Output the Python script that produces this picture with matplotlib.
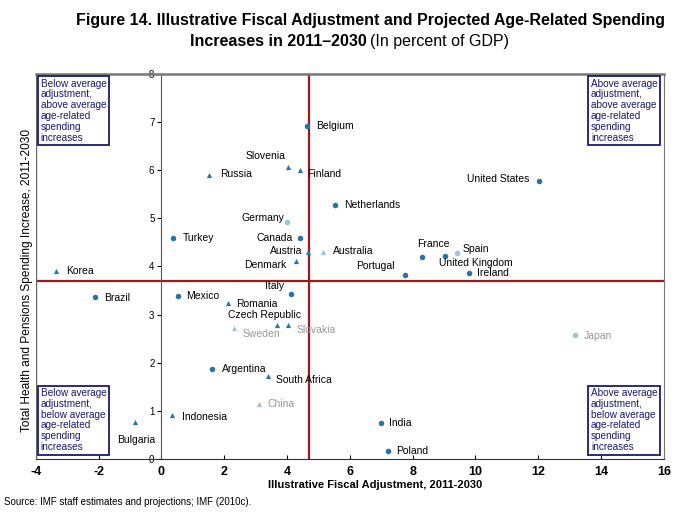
import numpy as np
import matplotlib.pyplot as plt

plt.rcParams['font.family'] = ['Liberation Sans', 'DejaVu Sans']
plt.rcParams['axes.unicode_minus'] = False

# countries: name, fiscal adjustment, spending increase
countries = ["Belgium", "Slovenia", "Finland", "Russia", "United States", "Netherlands",
             "Germany", "Turkey", "Canada", "Austria", "Australia", "France", "Spain",
             "United Kingdom", "Denmark", "Portugal", "Ireland", "Korea", "Brazil", "Mexico",
             "Italy", "Romania", "Czech Republic", "Slovakia", "Sweden", "Japan", "Argentina",
             "South Africa", "China", "Indonesia", "Bulgaria", "India", "Poland"]
adjustment = [4.63, 4.03, 4.41, 1.51, 12.02, 5.52,
              3.99, 0.36, 4.41, 4.66, 5.14, 8.29, 9.41,
              9.03, 4.28, 7.75, 9.79, -3.36, -2.12, 0.52,
              4.12, 2.11, 3.68, 4.03, 2.31, 13.17, 1.61,
              3.39, 3.10, 0.33, -0.85, 6.99, 7.21]
spending = [6.92, 6.07, 6.01, 5.90, 5.78, 5.28,
            4.93, 4.59, 4.59, 4.30, 4.30, 4.20, 4.28,
            4.22, 4.12, 3.83, 3.87, 3.91, 3.37, 3.39,
            3.43, 3.24, 2.79, 2.79, 2.72, 2.58, 1.87,
            1.73, 1.14, 0.91, 0.77, 0.75, 0.17]
# marker kind: 'o' circle, '^' triangle
kinds = ['o', '^', '^', '^', 'o', 'o',
         'o', 'o', 'o', '^', '^', 'o', 'o',
         'o', '^', 'o', 'o', '^', 'o', 'o',
         'o', '^', '^', '^', '^', 'o', 'o',
         '^', '^', '^', '^', 'o', 'o']
light = ["Germany", "Australia", "Spain", "Sweden", "China", "Japan"]
gray_labels = ["Sweden", "Slovakia", "China", "Japan"]
avg_adj = 4.69
avg_spend = 3.70

# label offsets in points (dx, dy, ha)
offsets = {
    "Belgium": (7, 0, 'left'), "Slovenia": (-2, 8, 'right'), "Finland": (5, -3, 'left'),
    "Russia": (8, 1, 'left'), "United States": (-7, 1, 'right'), "Netherlands": (7, 0, 'left'),
    "Germany": (-2, 3, 'right'), "Turkey": (7, 0, 'left'), "Canada": (-5, 0, 'right'),
    "Austria": (-4, 1, 'right'), "Australia": (7, 1, 'left'), "France": (-3, 9, 'left'),
    "Spain": (4, 3, 'left'), "United Kingdom": (-4, -5, 'left'), "Denmark": (-7, -3, 'right'),
    "Portugal": (-7, 6, 'right'), "Ireland": (6, 0, 'left'), "Korea": (7, 0, 'left'),
    "Brazil": (7, -1, 'left'), "Mexico": (6, 0, 'left'), "Italy": (-5, 6, 'right'),
    "Romania": (6, -1, 'left'), "Czech Republic": (-35, 7, 'left'), "Slovakia": (6, -4, 'left'),
    "Sweden": (6, -4, 'left'), "Japan": (6, -1, 'left'), "Argentina": (7, 0, 'left'),
    "South Africa": (6, -3, 'left'), "China": (6, 0, 'left'), "Indonesia": (7, -1, 'left'),
    "Bulgaria": (-13, -13, 'left'), "India": (6, 0, 'left'), "Poland": (6, 0, 'left'),
}

fig = plt.figure(figsize=(6.76, 5.12), dpi=100)
ax = fig.add_axes([0.053, 0.1035, 0.929, 0.752])

dark = '#2a74a4'
pale = '#9fc3d6'
for name, x, y, k in zip(countries, adjustment, spending, kinds):
    c = pale if name in light else dark
    ax.scatter(x, y, marker=k, s=16 if k == 'o' else 14, color=c, zorder=3, linewidths=0)
    dx, dy, ha = offsets[name]
    tc = '#999999' if name in gray_labels else 'black'
    ax.annotate(name, (x, y), xytext=(dx, dy), textcoords='offset points',
                ha=ha, va='center', fontsize=7.5, color=tc, zorder=4)

ax.axvline(avg_adj, color='#a01818', lw=1.6, zorder=2)
ax.axhline(avg_spend, color='#a01818', lw=1.6, zorder=2)

ax.set_xlim(-4, 16)
ax.set_ylim(0, 8)
ax.set_xticks(np.arange(-4, 17, 2))
ax.set_yticks(np.arange(0, 9, 1))
ax.spines['left'].set_position(('data', 0))
ax.spines['left'].set_linestyle((0, (4, 1)))
ax.spines['left'].set_color('#555555')
ax.axvline(-4, color='#666666', lw=1.0)
for s in ['top', 'right']:
    ax.spines[s].set_color('#777777')
ax.spines['top'].set_linewidth(1.8)
ax.spines['bottom'].set_color('#333333')
ax.tick_params(axis='y', labelsize=7, length=3, pad=2, direction='out')
ax.tick_params(axis='x', labelsize=9, length=3, direction='in', pad=5)
for lbl in ax.get_xticklabels():
    lbl.set_fontweight('bold')

ax.set_xlabel('Illustrative Fiscal Adjustment, 2011-2030', fontsize=8, fontweight='bold')
ax.xaxis.set_label_coords(0.54, -0.055)
fig.text(0.04, 0.453, 'Total Health and Pensions Spending Increase, 2011-2030', rotation=90,
         ha='center', va='center', fontsize=8.6)

boxes = [
    (0.008, 0.988, 'left', 'top', "Below average\nadjustment,\nabove average\nage-related\nspending\nincreases"),
    (0.99, 0.988, 'right', 'top', "Above average\nadjustment,\nabove average\nage-related\nspending\nincreases"),
    (0.008, 0.018, 'left', 'bottom', "Below average\nadjustment,\nbelow average\nage-related\nspending\nincreases"),
    (0.99, 0.018, 'right', 'bottom', "Above average\nadjustment,\nbelow average\nage-related\nspending\nincreases"),
]
for bx, by, ha, va, txt in boxes:
    ax.text(bx, by, txt, transform=ax.transAxes, ha=ha, va=va, fontsize=7.2,
            color='#1a1a70', linespacing=1.1, multialignment='left', zorder=5,
            bbox=dict(boxstyle='square,pad=0.25', fc='white', ec='#1a1a70', lw=1.3))

fig.text(0.548, 0.975, 'Figure 14. Illustrative Fiscal Adjustment and Projected Age-Related Spending',
         ha='center', va='top', fontsize=11.5, fontweight='bold')
fig.text(0.542, 0.933, 'Increases in 2011\u20132030', ha='right', va='top', fontsize=11.5, fontweight='bold')
fig.text(0.548, 0.933, '(In percent of GDP)', ha='left', va='top', fontsize=11.5)
fig.text(0.006, 0.01, 'Source: IMF staff estimates and projections; IMF (2010c).', fontsize=7, ha='left', va='bottom')

fig.savefig('out.png', dpi=100)
